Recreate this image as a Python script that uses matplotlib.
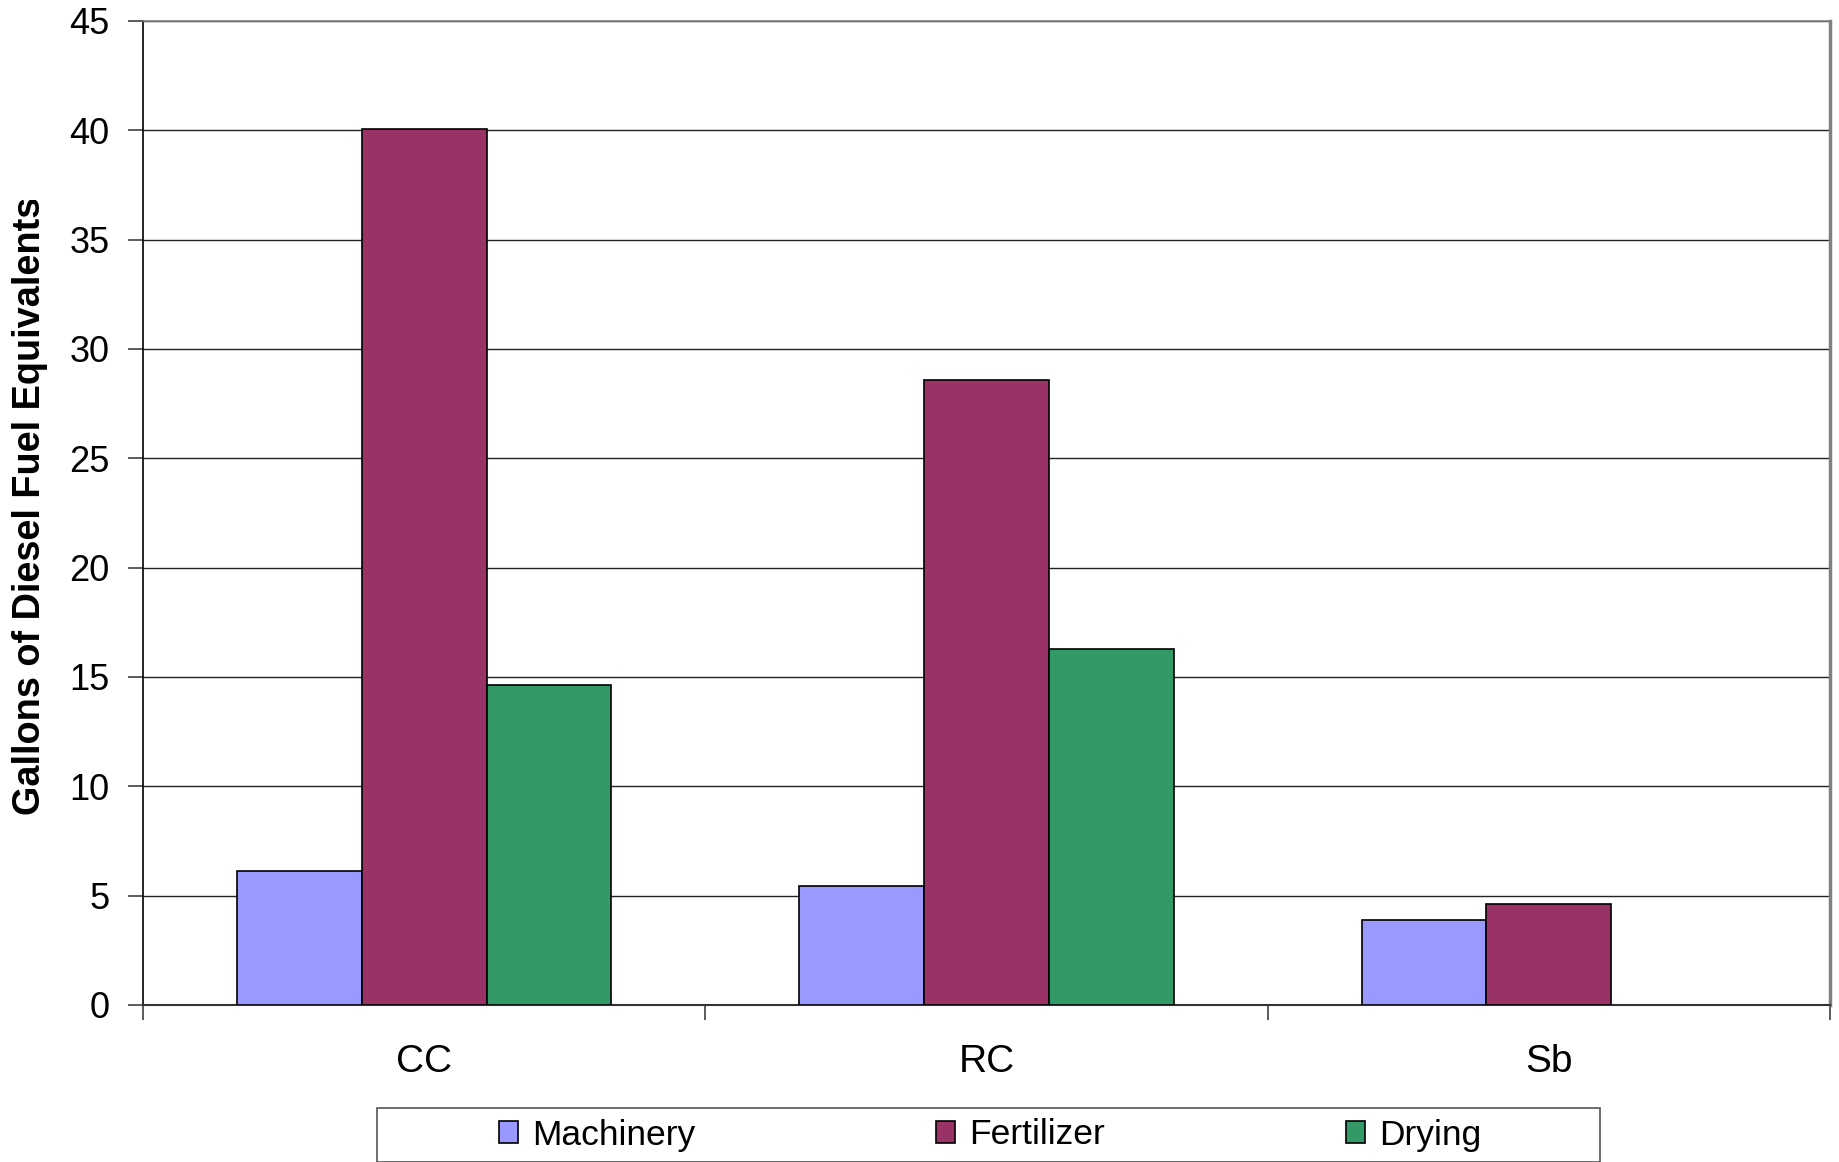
import matplotlib
matplotlib.use("Agg")
import matplotlib.pyplot as plt
import numpy as np
from matplotlib.patches import Rectangle
from matplotlib.transforms import Bbox

crops = ["CC", "RC", "Sb"]
machinery = [6.14, 5.46, 3.89]
fertilizer = [40.06, 28.58, 4.60]
drying = [14.63, 16.26, 0.0]
series_names = ["Machinery", "Fertilizer", "Drying"]
colors = ["#9999FF", "#993366", "#339966"]

plt.rcParams["font.family"] = ["Liberation Sans", "DejaVu Sans"]

W, H = 1839, 1162
fig = plt.figure(figsize=(W / 100, H / 100), dpi=100)
ax = fig.add_axes([143 / W, 1 - 1005 / H, (1830 - 143) / W, (1005 - 21) / H])

x = np.arange(len(crops))
width = 0.222
handles = []
for i, (vals, name, c) in enumerate(zip([machinery, fertilizer, drying], series_names, colors)):
    b = ax.bar(x + (i - 1) * width, vals, width, color=c, edgecolor="black",
               linewidth=1.2, label=name, zorder=3)
    # empty bars leave no outline on the axis
    for rect, v in zip(b.patches, vals):
        if v == 0:
            rect.set_visible(False)
    handles.append(b)

ax.set_xlim(-0.5, 2.5)
ax.set_ylim(0, 45)
ax.set_yticks(np.arange(0, 46, 5))
ax.yaxis.grid(True, color="#222222", linewidth=1.0, zorder=0)
ax.set_axisbelow(True)

# category labels centred, tick marks on the boundaries
ax.set_xticks(x)
ax.set_xticklabels(crops, fontsize=28)
ax.set_xticks([-0.5, 0.5, 1.5, 2.5], minor=True)
ax.tick_params(axis="x", which="major", length=0, pad=28)
ax.tick_params(axis="x", which="minor", length=11, width=1.2, color="#404040")
ax.tick_params(axis="y", length=11, width=1.2, color="#404040", labelsize=26, pad=13)

ax.spines["left"].set_color("black")
ax.spines["left"].set_linewidth(1.2)
ax.spines["bottom"].set_color("#333333")
ax.spines["bottom"].set_linewidth(1.5)
ax.spines["top"].set_color("#808080")
ax.spines["top"].set_linewidth(1.2)
ax.spines["right"].set_color("#808080")
ax.spines["right"].set_linewidth(2.5)

# title box is narrower than the text, so its last letter gets cut
ylab = fig.text(30 / W, 1 - 815 / H, "Gallons of Diesel Fuel Equivalents",
                rotation=90, ha="center", va="bottom", fontsize=27.3, fontweight="bold")
ylab.set_clip_box(Bbox([[0, 0], [W, H - 200]]))
ylab.set_clip_on(True)

# legend box across the bottom
fig.patches.append(Rectangle((377 / W, 0.0), (1600 - 377) / W, (H - 1108) / H,
                             transform=fig.transFigure, facecolor="white",
                             edgecolor="#555555", linewidth=1.2))
fig.legend(handles=handles, loc="center", bbox_to_anchor=(990 / W, 1 - 1135 / H),
           ncol=3, frameon=False, fontsize=25.5, handlelength=0.54, handleheight=0.55,
           handletextpad=0.4, columnspacing=6.8)

fig.savefig("out.png", dpi=100)
